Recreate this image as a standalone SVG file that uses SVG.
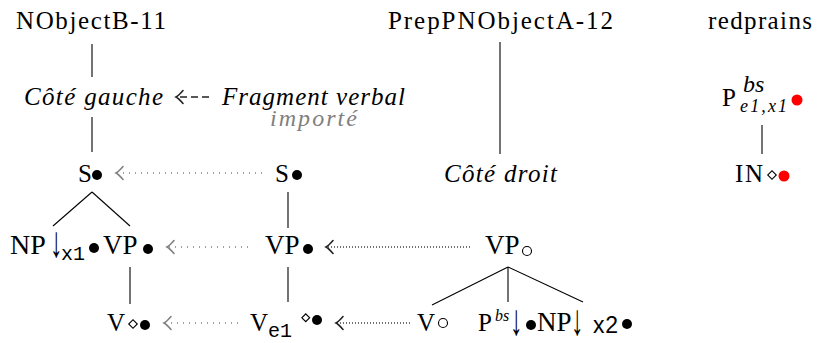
<svg xmlns="http://www.w3.org/2000/svg" width="820" height="343" viewBox="0 0 820 343" font-family="'Liberation Serif', 'DejaVu Serif', serif" font-size="25">
  <style>
    .it { font-style: italic; }
    .gray { fill: #808080; }
    .mono { font-family: 'Liberation Mono', 'DejaVu Sans Mono', monospace; font-size: 20px; }
    .sans { font-family: 'Liberation Sans', 'DejaVu Sans', sans-serif; font-size: 23px; }
    .edge { stroke: #000; stroke-width: 1.1; fill: none; }
    .dot { fill: #000; }
    .red { fill: #ff0000; }
    .ring { fill: none; stroke: #000; stroke-width: 1.1; }
    .dia { fill: #fff; stroke: #000; stroke-width: 1.1; }
    .link-gray { stroke: #808080; stroke-width: 1.5; stroke-dasharray: 1 5; fill: none; marker-end: url(#chev-gray); }
    .link-dark { stroke: #444; stroke-width: 1.5; stroke-dasharray: 1 2; fill: none; marker-end: url(#chev-dark); }
    .link-dash { stroke: #222; stroke-width: 1.5; stroke-dasharray: 7 4; fill: none; marker-end: url(#chev-dark); }
  </style>
  <defs>
    <marker id="chev-gray" markerUnits="userSpaceOnUse" viewBox="-9 -8 11 16" markerWidth="11" markerHeight="16" refX="-1" refY="0" orient="auto">
      <path d="M-7,-6.5 C-4,-3 -2,-1 0,0 C-2,1 -4,3 -7,6.5" fill="none" stroke="#808080" stroke-width="1.6" stroke-linecap="round"/>
    </marker>
    <marker id="chev-dark" markerUnits="userSpaceOnUse" viewBox="-9 -8 11 16" markerWidth="11" markerHeight="16" refX="-1" refY="0" orient="auto">
      <path d="M-7,-6.5 C-4,-3 -2,-1 0,0 C-2,1 -4,3 -7,6.5" fill="none" stroke="#222" stroke-width="1.6" stroke-linecap="round"/>
    </marker>
  </defs>

  <!-- tree edges and transfer links -->
  <g id="connectors">
    <line class="edge" x1="92" y1="44" x2="92" y2="77"/>
    <line class="edge" x1="92" y1="117" x2="92" y2="152"/>
    <line class="edge" x1="500" y1="42" x2="500" y2="154"/>
    <line class="edge" x1="762" y1="125" x2="762" y2="154"/>
    <!-- left tree -->
    <line class="edge" x1="92" y1="192" x2="53" y2="226"/>
    <line class="edge" x1="92" y1="192" x2="130" y2="226"/>
    <line class="edge" x1="130" y1="267" x2="130" y2="304"/>
    <!-- middle tree -->
    <line class="edge" x1="288" y1="192" x2="288" y2="228"/>
    <line class="edge" x1="288" y1="267" x2="288" y2="302"/>
    <!-- right tree -->
    <line class="edge" x1="508" y1="267" x2="432" y2="305"/>
    <line class="edge" x1="508" y1="267" x2="508" y2="302"/>
    <line class="edge" x1="508" y1="267" x2="583" y2="302"/>
    <!-- links -->
    <line class="link-dash" x1="209" y1="97" x2="177" y2="97"/>
    <line class="link-gray" x1="262" y1="173" x2="117" y2="173"/>
    <line class="link-gray" x1="248" y1="247" x2="168" y2="247"/>
    <line class="link-dark" x1="470" y1="247" x2="327" y2="247"/>
    <line class="link-gray" x1="238" y1="323" x2="165" y2="323"/>
    <line class="link-dark" x1="410" y1="323" x2="337" y2="323"/>
  </g>

  <!-- headings -->
  <g id="title-left"><text x="16" y="29" textLength="150">NObjectB-11</text></g>
  <g id="title-mid"><text x="388" y="29" textLength="225">PrepPNObjectA-12</text></g>
  <g id="title-right"><text x="708" y="29" textLength="104">redprains</text></g>

  <g id="cote-gauche"><text class="it" x="24" y="105" textLength="139">Côté gauche</text></g>
  <g id="fragment">
    <text class="it" x="222" y="105" textLength="183">Fragment verbal</text>
    <text class="it gray" x="270" y="126" font-size="24" textLength="87">importé</text>
  </g>
  <g id="cote-droit"><text class="it" x="444" y="182" textLength="113">Côté droit</text></g>

  <!-- left tree -->
  <g id="l-s"><text x="78" y="182">S</text><circle class="dot" cx="97" cy="175" r="5"/></g>
  <g id="l-np">
    <text x="10" y="254" font-size="28">NP</text>
    <text transform="translate(50,257) scale(1,1.75)">↓</text>
    <text class="mono" x="61" y="260">x1</text>
    <circle class="dot" cx="94" cy="248" r="5"/>
  </g>
  <g id="l-vp"><text x="103" y="254" font-size="27">VP</text><circle class="dot" cx="148" cy="249" r="5"/></g>
  <g id="l-v">
    <text x="107" y="331">V</text>
    <rect class="dia" x="130" y="321" width="6" height="6" transform="rotate(45 133 324)"/>
    <circle class="dot" cx="145" cy="325" r="5"/>
  </g>

  <!-- middle tree -->
  <g id="m-s"><text x="275" y="182">S</text><circle class="dot" cx="297" cy="175" r="5"/></g>
  <g id="m-vp"><text x="265" y="254" font-size="27">VP</text><circle class="dot" cx="308" cy="249" r="5"/></g>
  <g id="m-v">
    <text x="250" y="331">V</text>
    <text class="mono" x="268" y="337">e1</text>
    <rect class="dia" x="303" y="315" width="5.5" height="5.5" transform="rotate(45 305.75 317.75)"/>
    <circle class="dot" cx="317" cy="320" r="5"/>
  </g>

  <!-- right tree -->
  <g id="r-vp"><text x="485" y="254" font-size="27">VP</text><circle class="ring" cx="527" cy="251" r="4.5"/></g>
  <g id="r-v"><text x="417" y="331">V</text><circle class="ring" cx="443" cy="323" r="4.5"/></g>
  <g id="r-p">
    <text x="478" y="331">P</text>
    <text class="it" x="495" y="321" font-size="16">bs</text>
    <text transform="translate(510,335) scale(1,1.75)">↓</text>
    <circle class="dot" cx="531" cy="325" r="5"/>
  </g>
  <g id="r-np">
    <text x="537" y="331" font-size="27">NP</text>
    <text transform="translate(571,335) scale(1,1.75)">↓</text>
    <text class="sans" x="593" y="333" textLength="25">x2</text>
    <circle class="dot" cx="627" cy="324" r="5"/>
  </g>

  <!-- redprains -->
  <g id="rp-p">
    <text x="722" y="106">P</text>
    <text class="it" x="743" y="92" font-size="24">bs</text>
    <text class="it" x="740" y="112" font-size="18" textLength="47">e1,x1</text>
    <circle class="red" cx="797" cy="100" r="5.5"/>
  </g>
  <g id="rp-in">
    <text x="735" y="182" textLength="28">IN</text>
    <rect class="dia" x="769" y="172" width="6" height="6" transform="rotate(45 772 175)"/>
    <circle class="red" cx="784" cy="176" r="5.5"/>
  </g>
</svg>
